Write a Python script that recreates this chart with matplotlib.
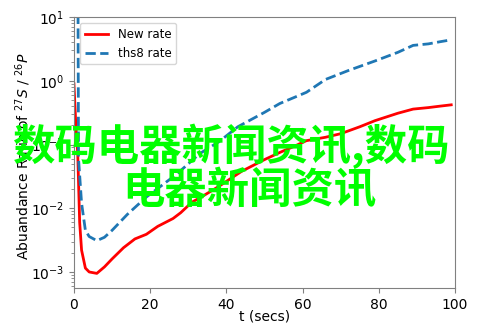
import numpy as np
import matplotlib.pyplot as plt

# andmed (loetud pildilt)
t_new = [0, 0.5, 1, 1.5, 2, 3, 4, 6, 8, 10, 13, 16, 19, 22, 26, 28, 31, 33, 38, 44,
         50, 54, 58, 61, 66, 70, 75, 79, 85, 89, 93, 96, 99]
new_rate = [0.9, 0.2, 0.07, 6e-3, 2.2e-3, 1.15e-3, 1.0e-3, 9.5e-4, 1.2e-3, 1.6e-3,
            2.4e-3, 3.3e-3, 3.9e-3, 5.2e-3, 6.9e-3, 8.5e-3, 0.0125, 0.0145, 0.022,
            0.038, 0.058, 0.075, 0.095, 0.115, 0.13, 0.148, 0.19, 0.237, 0.31,
            0.36, 0.38, 0.40, 0.42]

t_ths8 = [0, 1.2, 2, 3, 4, 6, 8, 10, 14, 19, 26, 28, 33, 38, 43, 50, 54, 61, 66,
          72, 79, 85, 89, 93, 96, 99]
ths8_rate = [1e20, 0.06, 0.012, 4.5e-3, 3.6e-3, 3.1e-3, 3.5e-3, 4.5e-3, 8e-3,
             0.015, 0.031, 0.039, 0.072, 0.11, 0.19, 0.32, 0.44, 0.66, 1.05,
             1.45, 2.05, 2.8, 3.6, 3.8, 4.1, 4.4]

fig = plt.figure(figsize=(4.93, 3.29), dpi=100)
ax = fig.add_axes([0.150, 0.1246, 0.773, 0.8234])

ax.plot(t_new, new_rate, color="red", lw=2, label="New rate")
ax.plot(t_ths8, ths8_rate, color="#1f77b4", lw=2, ls="--", label="ths8 rate")

ax.set_yscale("log")
ax.set_xlim(0, 100)
ax.set_ylim(5.6e-4, 10)
ax.set_xlabel("t (secs)")
ax.set_ylabel("Abuandance Ratio of $^{27}S$ / $^{26}P$")
ax.xaxis.set_label_coords(0.5, -0.078)
ax.yaxis.set_label_coords(-0.107, 0.485)
ax.legend(loc="upper left", fontsize=8.5)

for s in ax.spines.values():
    s.set_color("#808080")
ax.tick_params(which="both", color="#808080")

# vesimärk
fig.text(0.0243, 0.555, "数码电器新闻资讯,数码", color="#00ff00", fontsize=30.5,
         fontweight="bold", family=["Noto Sans CJK SC", "DejaVu Sans"],
         ha="left", va="center")
fig.text(0.2475, 0.42, "电器新闻资讯", color="#00ff00", fontsize=30.5,
         fontweight="bold", family=["Noto Sans CJK SC", "DejaVu Sans"],
         ha="left", va="center")

fig.savefig("out.png", dpi=100)
